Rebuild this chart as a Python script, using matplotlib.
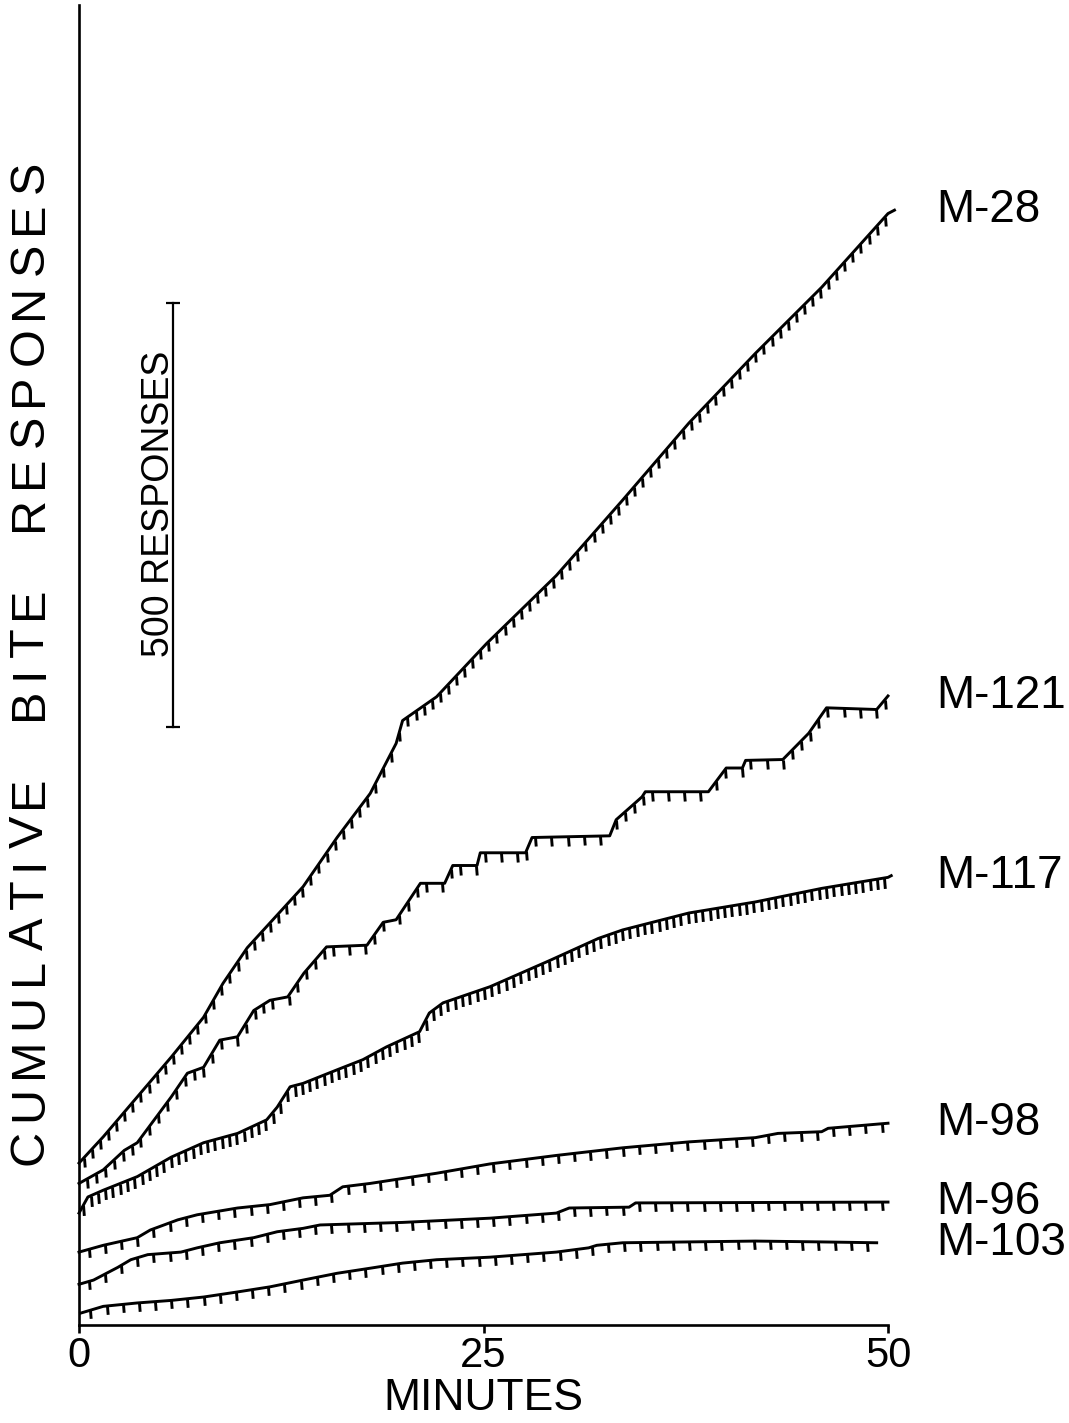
import numpy as np
import matplotlib
matplotlib.use("Agg")
import matplotlib.pyplot as plt
from matplotlib.path import Path
from matplotlib.font_manager import FontProperties

# ---- cumulative bite records (minutes, cumulative responses incl. display offset) ----
m28_t = [0, 1.5, 3.6, 5.7, 7.7, 8.9, 10.4, 13.85, 15.95, 18.0, 19.6, 20.0, 22.1, 25.2,
         29.5, 33.6, 37.7, 41.8, 45.9, 50.0, 50.4]
m28_r = [191, 222, 269, 316, 363, 403, 445, 517, 575, 627, 686, 713, 741, 804,
         884, 973, 1064, 1146, 1224, 1311, 1315]

m121_t = [0, 1.5, 2.8, 3.6, 5.7, 6.7, 7.7, 8.7, 9.8, 10.8, 11.8, 12.9, 13.9, 15.3,
          17.8, 18.8, 19.6, 21.1, 22.6, 23.1, 24.6, 24.8, 27.6, 28.0, 32.8, 33.2,
          34.8, 35.0, 38.9, 40.0, 41.0, 41.2, 43.5, 45.1, 46.2, 49.3, 50.0]
m121_r = [167, 183, 206, 215, 269, 297, 304, 336, 340, 371, 383, 387, 415, 446,
          448, 475, 478, 521, 521, 542, 542, 557, 557, 575, 577, 596,
          623, 629, 629, 657, 657, 666, 667, 698, 728, 726, 742]

m117_t = [0, 0.55, 1.5, 3.6, 5.7, 7.7, 9.8, 11.6, 12.25, 13.05, 13.85, 15.95, 17.55,
          19.0, 21.05, 21.65, 22.5, 25.4, 29.1, 32.1, 33.6, 37.7, 41.8, 45.9, 50.0, 50.2]
m117_r = [132, 151, 159, 175, 198, 215, 226, 242, 257, 281, 285, 301, 313,
          328, 346, 368, 380, 399, 430, 456, 466, 486, 499, 515, 528, 530]

m98_t = [0, 1.5, 3.6, 4.4, 6.1, 7.3, 9.8, 11.8, 13.85, 15.5, 16.3, 18.0, 22.1, 25.4,
         29.5, 33.6, 37.7, 41.8, 43.2, 45.9, 46.3, 50.0]
m98_r = [86, 94, 103, 112, 124, 130, 138, 142, 150, 153, 163, 167, 179, 190,
         200, 209, 216, 221, 226, 228, 232, 238]

m96_t = [0, 0.9, 1.5, 2.4, 3.2, 4.25, 6.3, 7.3, 8.7, 10.8, 12.25, 13.85, 14.9, 20.0,
         25.4, 29.5, 30.3, 34.0, 34.4, 50.0]
m96_r = [48, 53, 59, 68, 77, 83, 86, 91, 97, 103, 110, 114, 118, 121,
         126, 132, 138, 139, 144, 145]

m103_t = [0.1, 1.5, 3.6, 5.7, 7.7, 9.8, 11.8, 13.85, 15.95, 18.0, 20.0, 22.1, 25.4,
          29.5, 31.5, 32.0, 33.6, 37.7, 41.8, 45.9, 49.3]
m103_r = [14, 22, 26, 29, 33, 39, 45, 53, 61, 67, 73, 77, 80,
          86, 91, 94, 97, 98, 99, 98, 97]

subjects = ["M-28", "M-121", "M-117", "M-98", "M-96", "M-103"]
times = [m28_t, m121_t, m117_t, m98_t, m96_t, m103_t]
counts = [m28_r, m121_r, m117_r, m98_r, m96_r, m103_r]
# pen-deflection (pip) spacing in minutes; M-121 uses a shorter spacing while responding
pip_every = [0.5, None, 0.45, 1.0, 1.0, 1.0]
pip_len_pt = [6.5, 6.5, 7.5, 6.0, 6.0, 6.0]

x_ticks = [0, 25, 50]
x_ticklabels = ["0", "25", "50"]
scale_value = 500
scale_low = 705
scale_x = 5.8

# ---- figure ----
W, H = 1069, 1423
fig = plt.figure(figsize=(W / 100, H / 100), dpi=100)
fig.patch.set_facecolor("white")
ax = fig.add_axes([79 / W, 98 / H, (888 - 79) / W, 1320 / H])
ax.set_xlim(0, 50)
ax.set_ylim(0, 1557)
for side in ("top", "right"):
    ax.spines[side].set_visible(False)
for side in ("left", "bottom"):
    ax.spines[side].set_linewidth(1.9)
ax.set_yticks([])
ax.set_xticks(x_ticks)
ax.set_xticklabels(x_ticklabels)
ax.tick_params(axis="x", direction="out", length=6, width=1.9, pad=2)
for lab in ax.get_xticklabels():
    lab.set_fontfamily(["Liberation Sans Narrow", "Liberation Sans"])
    lab.set_fontsize(30)

ax.set_xlabel("MINUTES", fontsize=32, family="Liberation Sans", labelpad=1)

pip_marker = Path([(0, 0), (0.08, -1.0)], [Path.MOVETO, Path.LINETO])

for name, t, r, step, plen in zip(subjects, times, counts, pip_every, pip_len_pt):
    t = np.asarray(t, float)
    r = np.asarray(r, float)
    ax.plot(t, r, color="black", lw=2.1, solid_joinstyle="round", clip_on=False)
    # pip times
    if step is not None:
        tp = np.arange(t[0] + step * 0.6, t[-1] - 0.1, step)
    else:
        tp, cur = [], t[0] + 0.5
        while cur < t[-1] - 0.1:
            tp.append(cur)
            slope = (np.interp(cur + 0.6, t, r) - np.interp(cur, t, r)) / 0.6
            cur += 0.55 if slope > 6 else 1.0
        tp = np.asarray(tp)
    rp = np.interp(tp, t, r)
    ax.plot(tp, rp, linestyle="none", marker=pip_marker, ms=2 * plen,
            mec="black", mfc="none", mew=2.1, clip_on=False)
    ax.text(53.0, r[-1], name, fontsize=33, family="Liberation Sans",
            ha="left", va="center", clip_on=False)

# scale bar: 500 responses
ax.plot([scale_x, scale_x], [scale_low, scale_low + scale_value], color="black",
        lw=1.6, marker="_", ms=10, mew=1.6, clip_on=False)
ax.annotate(f"{scale_value} RESPONSES", xy=(scale_x, scale_low + scale_value / 2),
            xytext=(-10, 8), textcoords="offset points", rotation=90,
            ha="center", va="center", fontsize=27, family="Liberation Sans")

# vertical axis title, letter-spaced with an even gap between glyphs
fp = FontProperties(family="Liberation Sans", size=35)
words = ["CUMULATIVE", "BITE", "RESPONSES"]
letter_gap, word_gap = 8.5, 55
letters = []
for word in words:
    for k, ch in enumerate(word):
        txt = fig.text(30 / W, 0.5, ch, rotation=90, ha="center",
                       va="bottom", fontproperties=fp)
        letters.append((txt, k == len(word) - 1))
renderer = fig.canvas.get_renderer()
pos = 1423 - 1165  # lower end of the title, pixels from bottom
for txt, last in letters:
    txt.set_y(pos / H)
    ext = txt.get_window_extent(renderer)
    pos += ext.height + (word_gap if last else letter_gap)

fig.savefig("out.png", dpi=100, facecolor="white")
